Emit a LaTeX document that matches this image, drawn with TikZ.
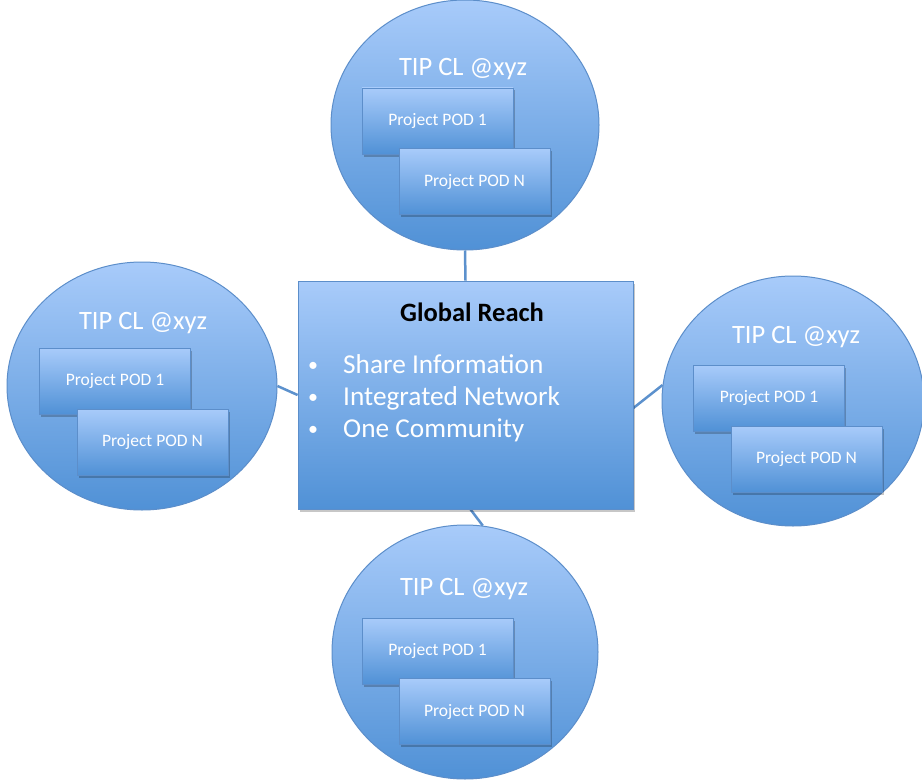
\documentclass[tikz,border=0pt]{standalone}
\usepackage{fontspec}
\setmainfont{Carlito}
\usetikzlibrary{shapes.geometric,shadows}
\pgfdeclarelayer{bg}
\pgfdeclarelayer{links}
\pgfsetlayers{bg,links,main}
\definecolor{blueTop}{RGB}{168,203,250}
\definecolor{blueBot}{RGB}{80,145,214}
\definecolor{blueEdge}{RGB}{92,142,202}
\definecolor{linkBlue}{RGB}{92,145,205}
\tikzset{
  softshadow/.style={drop shadow={shadow xshift=1.5pt, shadow yshift=-2.5pt,
    fill=black, opacity=0.22}},
  site/.style={ellipse, draw=blueEdge, line width=1pt, top color=blueTop,
    bottom color=blueBot, inner sep=0pt},
  pod/.style={rectangle, draw=blueEdge, line width=0.8pt, top color=blueTop,
    bottom color=blueBot, minimum width=151pt, minimum height=66pt,
    inner sep=0pt, text=white, font=\fontsize{17.5}{20}\selectfont, softshadow},
  hub/.style={rectangle, draw=blueEdge, line width=0.8pt, top color=blueTop,
    bottom color=blueBot, minimum width=335pt, minimum height=228pt, inner sep=0pt,
    softshadow},
  sitetitle/.style={anchor=base, text=white, font=\fontsize{26.5}{30}\selectfont, inner sep=0pt},
  bullet/.style={anchor=base west, text=white, font=\fontsize{27.3}{30}\selectfont, inner sep=0pt},
  dot/.style={anchor=base, text=white, font=\fontsize{20}{24}\selectfont, inner sep=0pt},
  link/.style={draw=linkBlue, line width=2.5pt}
}
\begin{document}
\begin{tikzpicture}[x=1pt,y=-1pt]
\begin{pgfonlayer}{bg}
  \fill[white] (0,0) rectangle (922,784);
\end{pgfonlayer}
\useasboundingbox (0,0) rectangle (922,784);
\clip (0,0) rectangle (922,784);

% the four sites
\node[site, minimum width=268pt, minimum height=250pt] (ctop) at (465,125) {};
\node[site, minimum width=270pt, minimum height=248pt] (cleft) at (142,386) {};
\node[site, minimum width=262pt, minimum height=250pt] (cright) at (793,401) {};
\node[site, minimum width=266pt, minimum height=254pt] (cbot) at (465,652) {};

% central hub
\node[hub] (gr) at (465.5,395) {};
\node[anchor=base, font=\fontsize{26.5}{30}\selectfont\bfseries, inner sep=0pt] (grtitle) at (472,321) {Global Reach};
\node[dot] (b1) at (313,371) {•};
\node[bullet] (t1) at (343,373) {Share Information};
\node[dot] (b2) at (313,403) {•};
\node[bullet] (t2) at (343,405) {Integrated Network};
\node[dot] (b3) at (313,435.5) {•};
\node[bullet] (t3) at (343,437.5) {One Community};

% site contents
\node[sitetitle] (ttop) at (463,76) {TIP CL @xyz};
\node[pod] (top1) at (437.5,121) {Project POD 1};
\node[pod] (topn) at (474.5,181.5) {Project POD N};

\node[sitetitle] (tleft) at (143,329) {TIP CL @xyz};
\node[pod] (left1) at (115,381) {Project POD 1};
\node[pod] (leftn) at (152.5,442) {Project POD N};

\node[sitetitle] (tright) at (796,343) {TIP CL @xyz};
\node[pod] (right1) at (769,398) {Project POD 1};
\node[pod] (rightn) at (806.5,459) {Project POD N};

\node[sitetitle] (tbot) at (464,595) {TIP CL @xyz};
\node[pod] (bot1) at (437.5,651) {Project POD 1};
\node[pod] (botn) at (474.5,711.5) {Project POD N};

% links from the hub to each site
\begin{pgfonlayer}{links}
  \draw[link] (ctop.south) -- (gr.north);
  \draw[link] (cleft.east) -- (gr.west);
  \draw[link] ([yshift=-13pt]gr.east) -- (cright.173);
  \draw[link] ([xshift=5pt]gr.south) -- (cbot.82);
\end{pgfonlayer}
\end{tikzpicture}
\end{document}
